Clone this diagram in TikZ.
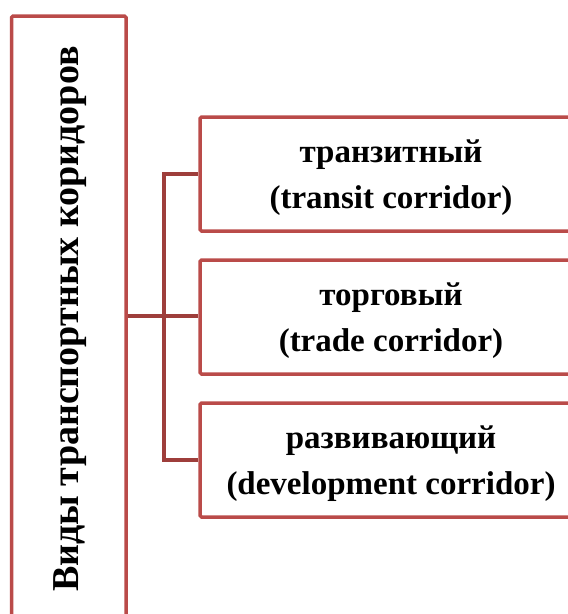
\documentclass[tikz,border=0pt]{standalone}
\usepackage{fontspec}
\setmainfont{Liberation Serif}
\begin{document}
\begin{tikzpicture}[x=1pt,y=-1pt,
  boxline/.style={draw=boxred,line width=3.5pt,rounded corners=1.5pt},
  rbox/.style={boxline,minimum width=382pt,minimum height=114pt,inner sep=0pt},
  rtext/.style={align=center,font=\fontsize{33pt}{46pt}\selectfont\bfseries,inner sep=0pt},
  conn/.style={draw=connred,line width=3.5pt}]
\definecolor{boxred}{HTML}{BA4B49}
\definecolor{connred}{HTML}{9E3E3B}
\useasboundingbox (0,0) rectangle (568,614);
\clip (0,0) rectangle (568,614);
\node[boxline,minimum width=114.5pt,minimum height=624pt,inner sep=0pt] (left) at (68.75,328) {};
\node[rotate=90,font=\fontsize{38pt}{40pt}\selectfont\bfseries] (lt) at (70,319) {Виды транспортных коридоров};
\node[rbox] (b1) at (391,174) {};
\node[rbox] (b2) at (391,317) {};
\node[rbox] (b3) at (391,460) {};
\node[rtext] (t1) at ([yshift=-4pt]b1.center) {транзитный\\(transit corridor)};
\node[rtext] (t2) at ([yshift=-4pt]b2.center) {торговый\\(trade corridor)};
\node[rtext] (t3) at ([yshift=-4pt]b3.center) {развивающий\\(development corridor)};
\coordinate (j) at (164,316);
\draw[conn] (left.east |- j) -- (j);
\draw[conn] (b1.west) -| (j);
\draw[conn] (b3.west) -| (j);
\draw[conn] (b2.west |- j) -- (j);
\end{tikzpicture}
\end{document}
